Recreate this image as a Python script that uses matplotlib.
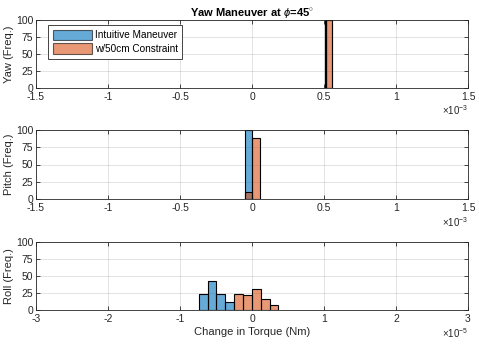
import numpy as np
import matplotlib.pyplot as plt

plt.rcParams['font.family'] = ['Liberation Sans', 'DejaVu Sans']
plt.rcParams['mathtext.fontset'] = 'custom'
plt.rcParams['mathtext.rm'] = 'Liberation Sans'
plt.rcParams['mathtext.it'] = 'Liberation Sans:italic'

# histogram bins (x in units of the axis multiplier) and counts
yaw_scale = '-3'
yaw_int_edges = [0.505, 0.512]
yaw_int_counts = [100]
yaw_con_edges = [0.512, 0.557]
yaw_con_counts = [100]

pitch_scale = '-3'
pitch_int_edges = [-0.049, 0.002]
pitch_int_counts = [100]
pitch_con_edges = [-0.049, 0.002, 0.055]
pitch_con_counts = [10, 88]

roll_scale = '-5'
roll_int_edges = [-0.74, -0.617, -0.494, -0.371, -0.248]
roll_int_counts = [23, 42, 23, 12]
roll_con_edges = [-0.248, -0.125, -0.002, 0.121, 0.244, 0.367]
roll_con_counts = [23, 22, 31, 16, 8]

xlims = [(-1.5, 1.5), (-1.5, 1.5), (-3, 3)]
xticks = [np.arange(-1.5, 1.51, 0.5), np.arange(-1.5, 1.51, 0.5), np.arange(-3, 3.1, 1)]
ylabels = ['Yaw (Freq.)', 'Pitch (Freq.)', 'Roll (Freq.)']
labels = ['Intuitive Maneuver', 'w/50cm Constraint']

blue = (0, 0.447, 0.741)
orange = (0.85, 0.325, 0.098)
axcol = (0.15, 0.15, 0.15)

fig = plt.figure(figsize=(4.79, 3.44), dpi=100)
pos = [(36, 20, 88), (36, 130, 199), (36, 241.5, 310)]
W, H = 479, 344

data = [
    (yaw_int_edges, yaw_int_counts, yaw_con_edges, yaw_con_counts, yaw_scale),
    (pitch_int_edges, pitch_int_counts, pitch_con_edges, pitch_con_counts, pitch_scale),
    (roll_int_edges, roll_int_counts, roll_con_edges, roll_con_counts, roll_scale),
]

for i, (ie, ic, ce, cc, sc) in enumerate(data):
    l, t, b = pos[i]
    ax = fig.add_axes([l / W, 1 - b / H, (468 - l) / W, (b - t) / H])
    ax.bar(ie[:-1], ic, width=np.diff(ie), align='edge', color=blue, alpha=0.6,
           label=labels[0])
    ax.bar(ce[:-1], cc, width=np.diff(ce), align='edge', color=orange, alpha=0.6,
           label=labels[1])
    ax.bar(ie[:-1], ic, width=np.diff(ie), align='edge', fill=False,
           edgecolor='black', lw=0.8)
    ax.bar(ce[:-1], cc, width=np.diff(ce), align='edge', fill=False,
           edgecolor='black', lw=0.8)
    ax.set_xlim(*xlims[i])
    ax.set_ylim(0, 100)
    ax.set_xticks(xticks[i])
    ax.set_xticklabels(['%g' % v for v in xticks[i]])
    ax.set_yticks([0, 25, 50, 75, 100])
    ax.grid(True, color=axcol, alpha=0.15, lw=0.6)
    ax.set_axisbelow(True)
    ax.tick_params(direction='in', length=3, width=0.6, labelsize=7.5,
                   colors=axcol, top=True, right=True, pad=2)
    ax.tick_params(axis='x', pad=3)
    for s in ax.spines.values():
        s.set_color(axcol)
        s.set_linewidth(0.6)
    ax.set_ylabel(ylabels[i], fontsize=8, color=axcol, labelpad=1)
    ax.text(1.0, -0.23, r'$\times10^{%s}$' % sc, transform=ax.transAxes,
            ha='right', va='top', fontsize=7, color=axcol)
    if i == 0:
        ax.set_title(r'Yaw Maneuver at $\phi$=45$^{\circ}$', fontsize=8,
                     fontweight='bold', pad=3)
        h, lab = ax.get_legend_handles_labels()
        for hh in h:
            for p in hh.patches:
                p.set_edgecolor('black')
                p.set_linewidth(0.8)
        leg = ax.legend(h, lab, loc='upper left', fontsize=7.2, fancybox=False,
                        edgecolor=axcol, framealpha=1, borderpad=0.45,
                        handlelength=3.9, handleheight=1.3, handletextpad=0.3,
                        labelspacing=0.3, borderaxespad=0,
                        bbox_to_anchor=(0.028, 0.926))
        leg.get_frame().set_linewidth(0.6)
    if i == 2:
        ax.set_xlabel('Change in Torque (Nm)', fontsize=8, color=axcol, labelpad=2)

fig.savefig('out.png', dpi=100)
